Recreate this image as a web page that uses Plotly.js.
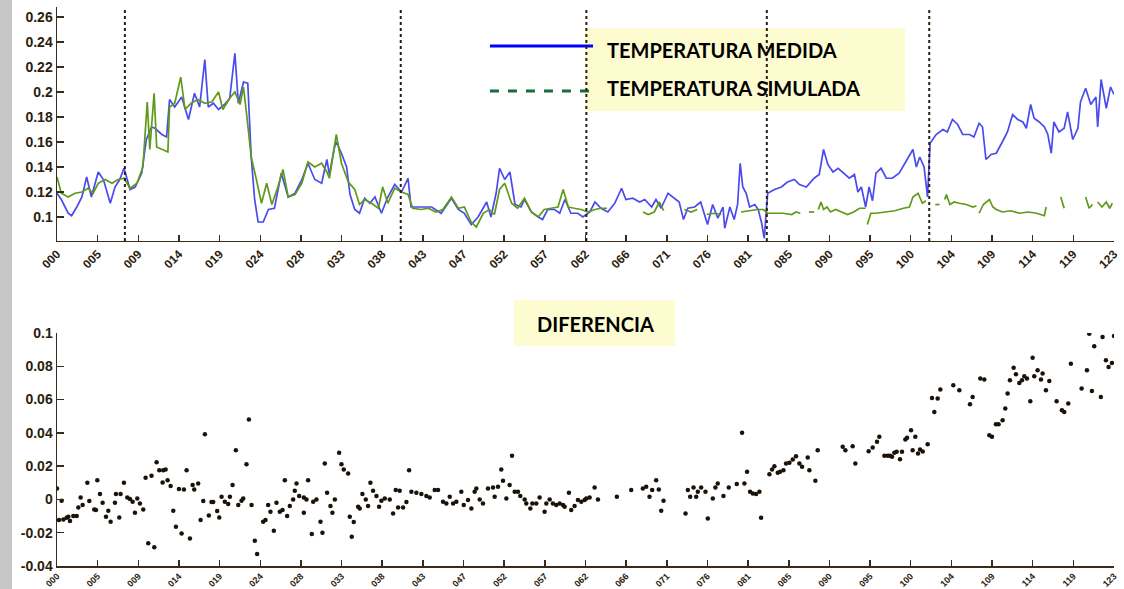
<!DOCTYPE html>
<html>
<head>
<meta charset="utf-8">
<script src="https://cdn.plot.ly/plotly-3.0.1.min.js"></script>
<style>html,body{margin:0;padding:0;background:#fff;}#chart{width:1124px;height:589px;}</style>
</head>
<body>
<div id="chart"></div>
<script>
// ---- x tick labels (sample index) ----
const xTickLabels = ["000","005","009","014","019","024","028","033","038","043","047","052","057","062","066","071","076","081","085","090","095","100","104","109","114","119","123"];
const topYTicks = [0.1,0.12,0.14,0.16,0.18,0.2,0.22,0.24,0.26];
const topYLabels = ["0.1","0.12","0.14","0.16","0.18","0.2","0.22","0.24","0.26"];
const botYTicks = [-0.04,-0.02,0,0.02,0.04,0.06,0.08,0.1];
const botYLabels = ["-0.04","-0.02","0","0.02","0.04","0.06","0.08","0.1"];
const divisiones = [7.9, 40.0, 61.6, 82.6, 101.5];

// ---- TEMPERATURA MEDIDA ----
const tMedida = [0,0.5,1.3,1.7,2.3,2.9,3.45,4,4.8,5.4,6.2,6.75,7.3,7.8,8.5,9.1,9.85,10.4,11,11.4,12.2,12.75,13.1,13.7,14.5,15.3,16,16.6,17.2,17.6,18.2,18.8,19.5,20.1,20.7,21.1,21.7,22.2,22.6,23,23.4,24,24.6,25.3,26.1,26.9,27.7,28.5,29.2,30,30.8,31.4,31.7,32.3,32.5,33.1,33.7,34.1,34.65,35.2,35.8,36.4,37,37.75,38.5,39.3,40.1,40.85,41.2,42,42.8,43.6,44.7,45.9,46.7,47.4,48.2,49,50,50.5,51.1,51.5,52.1,52.7,53.3,54,54.4,55.2,56,56.5,57.1,57.9,58.5,59.1,59.8,60.6,61.2,62,62.6,63.3,64.1,64.9,65.7,66.2,67,67.8,68.4,69.2,69.7,70.3,71.1,71.9,72.4,72.9,73.4,74.2,74.9,75.7,76.3,76.9,77.5,77.7,78.3,78.8,79.2,79.5,79.8,80.2,80.6,81.2,81.6,82,82.3,82.7,83.5,84.3,85,85.8,86.4,87.2,88.1,88.7,89.2,89.7,90.3,90.9,91.6,92.2,92.8,93.2,93.6,94.1,94.5,94.9,95.3,95.9,96.5,97.2,98,98.8,99.6,100,100.4,100.9,101.3,101.6,102.3,103.1,103.6,104.2,104.8,105.4,106.2,106.7,107.3,107.7,108.1,108.7,109.3,110,110.6,111.2,111.8,112.4,112.8,113.3,113.7,114.3,114.9,115.3,115.7,116,116.6,117.2,117.6,118.2,118.8,119.1,119.7,120.3,120.9,121.1,121.5,122.1,122.6,123];
const tempMedida = [0.119,0.114,0.103,0.101,0.108,0.116,0.132,0.116,0.136,0.130,0.111,0.124,0.130,0.139,0.122,0.124,0.135,0.162,0.172,0.171,0.166,0.164,0.194,0.188,0.196,0.178,0.199,0.188,0.226,0.188,0.191,0.186,0.190,0.195,0.231,0.191,0.208,0.207,0.148,0.114,0.096,0.096,0.106,0.107,0.135,0.116,0.119,0.130,0.143,0.130,0.127,0.146,0.134,0.156,0.160,0.151,0.140,0.118,0.106,0.103,0.115,0.111,0.116,0.103,0.116,0.126,0.120,0.131,0.108,0.108,0.108,0.108,0.103,0.115,0.106,0.103,0.094,0.100,0.112,0.100,0.119,0.139,0.130,0.136,0.110,0.108,0.114,0.104,0.100,0.098,0.106,0.106,0.103,0.114,0.103,0.103,0.100,0.104,0.112,0.107,0.104,0.111,0.123,0.114,0.115,0.112,0.114,0.108,0.114,0.107,0.119,0.115,0.112,0.098,0.107,0.108,0.112,0.094,0.110,0.099,0.108,0.091,0.108,0.098,0.110,0.143,0.124,0.119,0.108,0.110,0.106,0.095,0.083,0.119,0.122,0.124,0.128,0.130,0.126,0.124,0.131,0.134,0.154,0.142,0.136,0.139,0.135,0.131,0.134,0.120,0.124,0.108,0.124,0.113,0.135,0.139,0.131,0.131,0.135,0.144,0.154,0.140,0.148,0.140,0.116,0.159,0.166,0.170,0.168,0.178,0.174,0.166,0.166,0.164,0.175,0.172,0.146,0.150,0.151,0.160,0.168,0.182,0.178,0.176,0.171,0.190,0.179,0.176,0.172,0.166,0.151,0.176,0.168,0.171,0.184,0.162,0.171,0.192,0.203,0.190,0.196,0.172,0.210,0.187,0.204,0.198];

// ---- TEMPERATURA SIMULADA (null = gap) ----
const tSimulada = [0,0.5,1.3,2.1,2.9,3.6,4.2,4.8,5.6,6.4,7.1,7.8,8.5,9.3,10,10.5,10.8,11.3,11.6,12.2,12.9,13.1,13.7,14.4,14.9,15.6,16.4,17.2,18,18.8,19.3,20.1,20.7,21.3,21.7,22.1,22.6,23.2,23.8,24.4,25,25.7,26.3,26.9,27.7,28.5,29.2,30,30.8,31.4,31.7,32.5,33.1,33.9,34.65,35.2,35.8,36.6,37.4,37.9,38.5,39.3,40.1,40.85,41.4,42.4,43.2,44.1,44.9,45.9,46.7,47.4,48.2,48.8,49.6,50.3,50.9,51.5,52.1,52.9,53.6,54.4,55.2,56,56.7,57.5,58.3,58.9,59.5,60.2,61,61.8,62.6,63.3,64,64.5,68.2,68.8,69.5,70.1,70.6,71,73,73.8,74.5,75,75.6,76.5,77.3,77.8,79.6,80.5,81.5,82.2,82.7,83.5,84.5,85.5,86,86.5,87,87.5,88.1,88.3,88.6,88.9,89.2,89.6,90,90.6,91.3,92,92.7,93.4,94.1,94.2,94.3,94.7,95.3,96.5,97.5,98.5,99.2,99.6,100.2,100.7,101.1,101.5,102.2,102.7,102.9,103.3,103.5,103.9,104.4,105,105.8,106.6,107,107.1,107.3,107.8,108.5,108.9,109.3,110,111,112,113,114,114.9,115.1,115.5,116.8,117.2,117.5,119.7,120.1,120.5,120.8,121.1,121.6,122.1,122.5,122.8];
const tempSimulada = [0.132,0.119,0.116,0.119,0.120,0.123,0.119,0.127,0.130,0.127,0.130,0.131,0.123,0.127,0.140,0.192,0.154,0.199,0.156,0.154,0.152,0.188,0.191,0.212,0.186,0.191,0.194,0.191,0.192,0.200,0.186,0.195,0.200,0.190,0.204,0.180,0.148,0.130,0.111,0.127,0.110,0.124,0.138,0.116,0.118,0.127,0.144,0.140,0.143,0.136,0.131,0.166,0.143,0.128,0.122,0.110,0.114,0.111,0.107,0.124,0.111,0.123,0.120,0.118,0.107,0.106,0.107,0.104,0.106,0.116,0.107,0.108,0.096,0.092,0.103,0.106,0.102,0.122,0.127,0.111,0.107,0.115,0.104,0.100,0.106,0.107,0.108,0.122,0.108,0.107,0.106,0.104,0.106,0.107,0.107,null,0.104,0.102,0.104,0.112,0.105,null,0.106,0.104,0.106,null,0.102,0.103,0.102,null,0.104,0.105,0.106,0.106,0.103,0.103,0.103,0.102,0.104,0.103,null,0.104,0.104,null,0.106,0.112,0.106,0.108,0.104,0.106,0.104,0.102,0.104,0.107,0.107,null,0.094,0.103,0.103,0.104,0.105,0.107,0.108,0.116,0.119,0.111,0.113,null,0.110,0.110,null,0.114,0.118,0.110,0.112,0.111,0.110,0.108,0.109,null,0.103,0.110,0.114,0.108,0.106,0.104,0.105,0.103,0.104,0.103,0.101,0.108,null,0.116,0.107,null,0.116,0.107,0.110,null,0.112,0.108,0.112,0.107,0.111];

// ---- DIFERENCIA ----
const tDiferencia = [0.0,0.54,0.23,0.74,1.12,1.32,1.51,1.90,2.29,2.48,2.75,2.98,3.53,3.76,4.34,4.53,4.69,5.0,5.31,5.70,5.97,6.24,6.74,6.86,7.25,7.40,7.79,8.18,8.49,8.80,9.07,9.34,9.65,10.04,10.31,10.62,11.0,11.32,11.59,11.9,12.36,12.64,12.29,12.87,13.22,13.53,13.84,14.19,14.5,14.77,15.08,15.47,15.78,15.97,16.43,16.71,17.02,17.21,17.67,17.98,18.18,18.64,18.88,19.15,19.53,19.92,20.12,20.43,20.81,21.09,21.47,21.67,22.05,22.33,22.64,23.02,23.29,23.99,24.26,24.57,24.84,25.23,25.54,25.93,26.24,26.51,26.78,27.09,27.48,27.87,27.67,28.18,
28.72,28.72,29.03,29.22,29.65,29.81,30.19,30.66,30.89,31.16,31.43,31.82,32.05,32.33,32.83,33.1,33.37,33.88,34.07,34.53,34.3,35.04,35.23,35.54,35.93,36.2,36.47,36.78,37.17,37.48,37.75,38.14,38.72,39.11,39.42,39.88,39.69,40.27,40.66,40.97,41.24,41.82,42.4,42.98,43.37,43.95,44.34,44.92,45.31,45.7,46.09,46.47,47.05,47.33,47.83,48.22,48.6,48.8,49.19,49.57,50.15,50.74,50.93,51.32,51.7,51.9,52.29,52.67,52.95,53.26,53.64,53.91,54.42,54.61,55.08,55.31,55.77,56.16,56.74,56.94,57.33,57.71,58.1,58.49,58.88,59.07,59.57,59.84,60.23,60.62,61.01,61.4,61.59,61.98,62.56,62.95,
65.15,66.82,68.17,68.56,68.95,69.26,69.72,70.03,70.31,70.58,73.14,73.41,73.68,74.07,74.38,74.57,74.96,75.46,75.73,76.31,76.62,76.89,77.55,78.17,79.1,79.72,79.99,80.3,80.65,80.97,81.35,81.74,81.93,82.9,83.21,83.48,83.87,84.14,84.53,84.84,85.23,85.62,86.0,86.39,86.7,87.36,87.55,88.25,88.52,91.43,91.74,92.59,92.9,94.45,94.92,95.42,95.69,
96.28,96.67,96.94,97.17,97.44,97.71,98.1,98.33,98.72,98.92,99.38,99.57,99.88,100.19,100.43,100.74,101.32,101.82,102.09,102.48,102.79,104.3,105.0,106.24,106.55,107.44,107.91,108.49,108.8,109.26,109.57,110.04,110.35,110.62,110.89,111.32,111.59,111.98,112.29,112.56,112.87,113.26,113.53,113.72,114.11,114.5,114.69,115.08,115.47,116.32,116.94,117.21,117.68,117.98,119.23,119.85,120.12,120.43,120.7,121.47,121.67,122.06,122.37,122.76,123.0];
const diferencia = [0.0066,-0.0008,-0.0124,-0.012,-0.011,-0.0104,-0.013,-0.010,-0.010,-0.0048,0.0012,-0.0034,0.010,-0.001,-0.006,-0.0064,0.0116,0.0032,-0.002,-0.0104,-0.0068,-0.0134,-0.002,0.0032,-0.0108,0.0032,0.010,0.0012,0.0002,-0.0014,-0.008,0.0006,-0.0024,-0.006,0.013,-0.0264,0.0142,-0.0288,0.0224,0.0176,0.0176,0.018,0.0102,0.0116,0.008,-0.0068,-0.0164,0.0062,-0.0204,0.006,0.0176,-0.0234,0.0086,0.006,0.0096,-0.0124,-0.001,0.0392,-0.0096,-0.0016,-0.0016,-0.007,-0.0108,0.0016,-0.0014,-0.0028,0.0016,0.0086,0.0296,-0.0034,-0.0008,0.0006,0.0212,0.048,-0.0034,-0.0248,-0.0328,-0.0134,-0.0124,-0.0034,-0.0074,-0.0188,-0.002,-0.0074,-0.0064,0.0116,-0.010,-0.004,0.0,0.0096,0.0052,0.002,
0.0012,-0.008,0.0,0.0116,-0.0208,-0.0014,0.0,-0.0134,-0.020,0.0216,0.004,-0.004,-0.008,0.0,0.028,0.0212,0.018,0.0156,-0.0104,-0.0136,-0.0224,-0.0044,-0.0054,0.0032,0.0,-0.004,0.010,0.0052,0.002,-0.0044,-0.0008,0.0006,0.0,-0.0084,0.0056,0.0052,-0.0048,-0.0048,-0.0016,0.0176,0.0046,0.004,0.0032,0.002,0.0012,0.0056,0.0056,-0.0014,-0.0024,0.0016,-0.0024,-0.0014,0.0046,-0.0034,-0.0004,-0.0054,0.0046,0.0066,0.0,-0.0024,0.0066,0.0072,0.0016,0.0076,0.018,0.0112,0.0006,0.0086,0.0262,0.0046,0.0046,0.002,0.0,-0.0024,-0.0054,-0.0024,-0.0024,0.0012,-0.0074,-0.0024,0.0,-0.0024,-0.0034,-0.0024,-0.0034,-0.0044,0.004,-0.0064,-0.004,-0.0004,-0.0014,-0.0004,0.0006,0.0012,0.0072,0.0,
0.0016,0.0056,0.0066,0.0076,0.0016,0.0056,0.0116,0.006,-0.0068,-0.0008,-0.0084,0.0056,0.0016,0.0072,0.0016,0.0046,0.0072,0.0046,-0.0114,0.0006,0.0072,0.0096,0.002,0.0072,0.0092,0.040,0.0096,0.0166,0.0046,0.0036,0.0032,0.0046,-0.011,0.0152,0.018,0.020,0.016,0.0166,0.0176,0.0216,0.022,0.024,0.026,0.0216,0.0196,0.0252,0.0176,0.0112,0.0296,0.0316,0.0296,0.032,0.0216,0.029,0.0312,0.0346,0.0376,
0.0262,0.0262,0.0262,0.0256,0.028,0.0286,0.0242,0.0286,0.036,0.037,0.0416,0.0296,0.0376,0.0276,0.030,0.0288,0.0332,0.061,0.0526,0.0606,0.066,0.0686,0.0656,0.0572,0.0616,0.0726,0.072,0.0386,0.0376,0.0452,0.0452,0.0476,0.0546,0.0636,0.0716,0.0792,0.0752,0.070,0.0716,0.074,0.0726,0.059,0.0852,0.074,0.0776,0.072,0.0756,0.0656,0.0712,0.059,0.0536,0.0526,0.0576,0.0816,0.0666,0.0776,0.0996,0.0652,0.092,0.0616,0.0976,0.0836,0.0796,0.082,0.0982];

const axisColor = '#3b2a18';
const tickColor = '#2b1d0e';
const xTickVals = xTickLabels.map((_, i) => i * 123 / 26);

function xAxis(anchor, fsize) {
  return {
    anchor: anchor, range: [0, 123], showgrid: false, zeroline: false,
    showline: true, linecolor: axisColor, linewidth: 1.5,
    ticks: 'inside', ticklen: 6, tickwidth: 1.5, tickcolor: axisColor,
    tickvals: xTickVals, ticktext: xTickLabels, tickangle: -45,
    tickfont: {family: 'Liberation Sans', size: fsize, color: tickColor, weight: 'bold'}
  };
}
function yAxis(domain, range, vals, labels, anchor) {
  return {
    anchor: anchor, domain: domain, range: range, showgrid: false, zeroline: false,
    showline: true, linecolor: axisColor, linewidth: 1.5,
    ticks: 'inside', ticklen: 7, tickwidth: 1.5, tickcolor: axisColor,
    tickvals: vals, ticktext: labels,
    tickfont: {family: 'Liberation Sans', size: 14, color: tickColor, weight: 'bold'}
  };
}

const traces = [
  {x: tMedida, y: tempMedida, type: 'scatter', mode: 'lines', xaxis: 'x', yaxis: 'y',
   line: {color: '#4a4af0', width: 1.7}, name: 'TEMPERATURA MEDIDA', showlegend: false},
  {x: tSimulada, y: tempSimulada, type: 'scatter', mode: 'lines', xaxis: 'x', yaxis: 'y',
   line: {color: '#5e9a18', width: 1.7}, connectgaps: false, name: 'TEMPERATURA SIMULADA', showlegend: false},
  {x: tDiferencia, y: diferencia, type: 'scatter', mode: 'markers', xaxis: 'x2', yaxis: 'y2',
   marker: {color: '#1a1206', size: 4.5, symbol: 'circle'}, name: 'DIFERENCIA', showlegend: false}
];

const shapes = [
  {type: 'rect', xref: 'paper', yref: 'paper', x0: -0.054, x1: -0.0426, y0: -0.05, y1: 1.02, fillcolor: '#c6c6c6', line: {width: 0}, layer: 'below'},
  {type: 'rect', xref: 'paper', yref: 'paper', x0: 0.4995, x1: 0.8023, y0: 0.814, y1: 0.9624, fillcolor: '#fdfbd0', line: {width: 0}, layer: 'below'},
  {type: 'line', xref: 'paper', yref: 'paper', x0: 0.4096, x1: 0.5071, y0: 0.9302, y1: 0.9302, line: {color: '#0000ff', width: 3}},
  {type: 'line', xref: 'paper', yref: 'paper', x0: 0.4096, x1: 0.5071, y0: 0.8497, y1: 0.8497, line: {color: '#1b6a3a', width: 3, dash: 'dash'}},
  {type: 'rect', xref: 'paper', yref: 'paper', x0: 0.4324, x1: 0.5847, y0: 0.3936, y1: 0.4758, fillcolor: '#fdfbd0', line: {width: 0}, layer: 'below'}
];
divisiones.forEach(d => shapes.push({type: 'line', xref: 'x', yref: 'paper', x0: d, x1: d, y0: 0.5814, y1: 0.995,
  line: {color: '#2a1e10', width: 2, dash: 'dot'}}));

const annFont = {family: 'Lato, Open Sans, sans-serif', size: 20, color: '#000', weight: 'bold'};
const annotations = [
  {xref: 'paper', yref: 'paper', x: 0.5184, y: 0.9231, xanchor: 'left', yanchor: 'middle', text: 'TEMPERATURA MEDIDA', showarrow: false, font: annFont},
  {xref: 'paper', yref: 'paper', x: 0.5184, y: 0.8551, xanchor: 'left', yanchor: 'middle', text: 'TEMPERATURA SIMULADA', showarrow: false, font: annFont},
  {xref: 'paper', yref: 'paper', x: 0.509, y: 0.4329, xanchor: 'center', yanchor: 'middle', text: 'DIFERENCIA', showarrow: false, font: annFont}
];

const layout = {
  width: 1124, height: 589,
  margin: {l: 57, r: 10, t: 7, b: 23},
  paper_bgcolor: '#ffffff', plot_bgcolor: 'rgba(0,0,0,0)',
  showlegend: false,
  xaxis: xAxis('y', 12),
  yaxis: yAxis([0.5814, 1], [0.0808, 0.268], topYTicks, topYLabels, 'x'),
  xaxis2: xAxis('y2', 9),
  yaxis2: yAxis([0, 0.4168], [-0.04, 0.1], botYTicks, botYLabels, 'x2'),
  shapes: shapes,
  annotations: annotations
};

Plotly.newPlot('chart', traces, layout, {staticPlot: true});
</script>
</body>
</html>
